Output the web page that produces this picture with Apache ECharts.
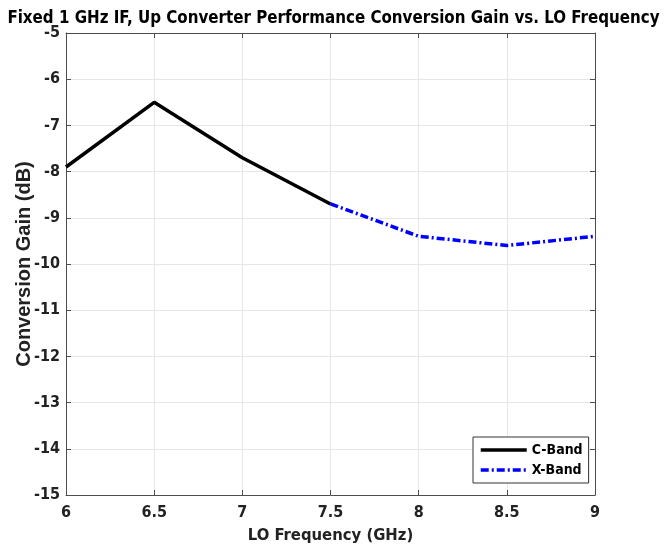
<!DOCTYPE html>
<html><head><meta charset="utf-8">
<script src="https://cdn.jsdelivr.net/npm/echarts@6/dist/echarts.min.js"></script>
<style>html,body{margin:0;padding:0;background:#fff}#c{width:667px;height:553px}</style>
</head><body><div id="c"></div>
<script>
const freqs = [6, 6.5, 7, 7.5, 8, 8.5, 9];
const cBandFreq = [6, 6.5, 7, 7.5];
const cBandGain = [-7.9, -6.5, -7.7, -8.7];
const xBandFreq = [7.5, 8, 8.5, 9];
const xBandGain = [-8.7, -9.4, -9.6, -9.4];
const seriesNames = ['C-Band', 'X-Band'];
const titleText = 'Fixed 1 GHz IF, Up Converter Performance Conversion Gain vs. LO Frequency';

const NARROW = '"DejaVu Sans Condensed","Liberation Sans Narrow","Arial Narrow",sans-serif';
const axisCol = '#4d4d4d';
const chart = echarts.init(document.getElementById('c'), null, {renderer: 'canvas'});
const pair = (xs, ys) => xs.map((x, i) => [x, ys[i]]);
const hidden = {show: false};
chart.setOption({
  animation: false,
  backgroundColor: '#fff',
  title: {text: titleText, left: 'center', top: 5, textStyle: {fontFamily: NARROW, fontWeight: 'bold', fontSize: 16.8, color: '#000'}},
  grid: {left: 66, right: 72, top: 33, bottom: 58, containLabel: false, outerBoundsMode: 'none'},
  legend: {
    data: seriesNames, orient: 'vertical', left: 473, top: 437,
    width: 110, itemWidth: 46, itemHeight: 12, itemGap: 6,
    padding: [6, 6, 6, 6], borderColor: '#333', borderWidth: 1, backgroundColor: '#fff',
    itemStyle: {opacity: 0},
    lineStyle: {width: 3.5},
    textStyle: {fontFamily: NARROW, fontWeight: 'bold', fontSize: 14, color: '#000'}
  },
  xAxis: [{
    type: 'value', min: 6, max: 9, interval: 0.5,
    name: 'LO Frequency (GHz)', nameLocation: 'middle', nameGap: 32, nameMoveOverlap: false,
    nameTextStyle: {fontFamily: NARROW, fontWeight: 'bold', fontSize: 16.5, color: '#222'},
    axisLine: {show: true, lineStyle: {color: axisCol, width: 1}},
    axisTick: {show: true, inside: true, length: 5, lineStyle: {color: axisCol}},
    axisLabel: {fontFamily: NARROW, fontWeight: 'bold', fontSize: 16, color: '#222', margin: 10},
    splitLine: {show: true, lineStyle: {color: '#e6e6e6', width: 1}}
  }, {
    type: 'value', min: 6, max: 9, interval: 0.5, position: 'top',
    axisLine: {show: true, lineStyle: {color: axisCol, width: 1}},
    axisTick: {show: true, inside: true, length: 5, lineStyle: {color: axisCol}},
    axisLabel: hidden, splitLine: hidden
  }],
  yAxis: [{
    type: 'value', min: -15, max: -5, interval: 1,
    name: 'Conversion Gain (dB)', nameLocation: 'middle', nameGap: 32, nameMoveOverlap: false,
    nameTextStyle: {fontFamily: 'Liberation Sans, Arial, sans-serif', fontWeight: 'bold', fontSize: 20, color: '#222'},
    axisLine: {show: true, lineStyle: {color: axisCol, width: 1}},
    axisTick: {show: true, inside: true, length: 5, lineStyle: {color: axisCol}},
    axisLabel: {fontFamily: NARROW, fontWeight: 'bold', fontSize: 16, color: '#222', margin: 6},
    splitLine: {show: true, lineStyle: {color: '#e6e6e6', width: 1}}
  }, {
    type: 'value', min: -15, max: -5, interval: 1, position: 'right',
    axisLine: {show: true, lineStyle: {color: axisCol, width: 1}},
    axisTick: {show: true, inside: true, length: 5, lineStyle: {color: axisCol}},
    axisLabel: hidden, splitLine: hidden
  }],
  series: [{
    name: seriesNames[0], type: 'line', data: pair(cBandFreq, cBandGain),
    showSymbol: false, symbol: 'none', z: 3,
    lineStyle: {color: '#000', width: 3.5, type: 'solid'}, itemStyle: {color: '#000'}
  }, {
    name: seriesNames[1], type: 'line', data: pair(xBandFreq, xBandGain),
    showSymbol: false, symbol: 'none', z: 3,
    lineStyle: {color: '#0000ff', width: 3.5, type: [8, 3, 2, 3]}, itemStyle: {color: '#0000ff'}
  }]
});
</script></body></html>
